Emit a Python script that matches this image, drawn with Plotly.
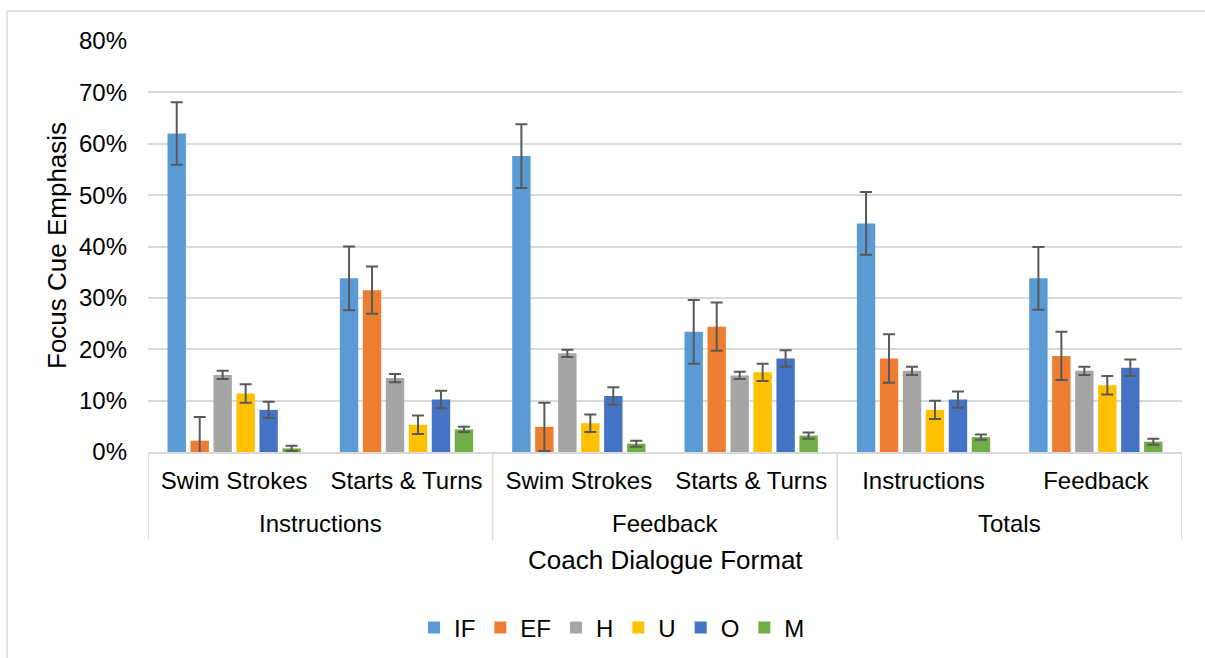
import plotly.graph_objects as go

outer = ["Instructions", "Instructions", "Feedback", "Feedback", "Totals", "Totals"]
inner = ["Swim Strokes", "Starts & Turns", "Swim Strokes", "Starts & Turns", "Instructions", "Feedback"]
groups = ["Instructions", "Feedback", "Totals"]

series_names = ["IF", "EF", "H", "U", "O", "M"]
colors = ["#5B9BD5", "#ED7D31", "#A5A5A5", "#FFC000", "#4472C4", "#70AD47"]

IF = [62.0, 33.8, 57.6, 23.4, 44.5, 33.8]
EF = [2.2, 31.5, 4.9, 24.4, 18.2, 18.7]
H = [15.0, 14.4, 19.2, 14.9, 15.8, 15.8]
U = [11.4, 5.3, 5.6, 15.5, 8.2, 13.0]
O = [8.2, 10.2, 10.9, 18.2, 10.2, 16.4]
M = [0.7, 4.4, 1.6, 3.2, 2.9, 2.0]

IF_err = [6.1, 6.2, 6.2, 6.2, 6.1, 6.1]
EF_err = [4.6, 4.6, 4.7, 4.7, 4.7, 4.7]
H_err = [0.8, 0.8, 0.7, 0.7, 0.8, 0.8]
U_err = [1.8, 1.8, 1.7, 1.7, 1.8, 1.8]
O_err = [1.6, 1.7, 1.7, 1.6, 1.6, 1.6]
M_err = [0.5, 0.5, 0.6, 0.6, 0.5, 0.6]

values = [IF, EF, H, U, O, M]
errors = [IF_err, EF_err, H_err, U_err, O_err, M_err]

FONT = "Liberation Sans, Arial, sans-serif"

# unique category ids (outer|inner) so repeated inner labels stay distinct
cats = [f"{o}|{i}" for o, i in zip(outer, inner)]

fig = go.Figure()
for name, col, v, e in zip(series_names, colors, values, errors):
    fig.add_trace(go.Bar(
        name=name,
        x=cats,
        y=v,
        marker=dict(color=col, line=dict(width=0)),
        error_y=dict(type="data", array=e, visible=True, color="#595959", thickness=2, width=6),
    ))

W, H_ = 1205, 658
L, R, T, B = 148, 1182, 41, 452

def px_x(p):
    return (p - L) / (R - L)

def px_y(p):
    return (B - p) / (B - T)

annotations = [
    dict(text="Focus Cue Emphasis", xref="paper", yref="paper", x=px_x(57), y=px_y(246),
         xanchor="center", yanchor="middle", textangle=-90, showarrow=False,
         font=dict(size=26, family=FONT, color="#000000")),
    dict(text="Coach Dialogue Format", xref="paper", yref="paper", x=px_x(665), y=px_y(560),
         xanchor="center", yanchor="middle", showarrow=False,
         font=dict(size=26, family=FONT, color="#000000")),
]
# outer group labels, centred on each pair of categories
n_per = len(cats) // len(groups)
for gi, g in enumerate(groups):
    center = gi * n_per + (n_per - 1) / 2
    annotations.append(dict(text=g, xref="x", yref="paper", x=center, y=px_y(523),
                            xanchor="center", yanchor="middle", showarrow=False,
                            font=dict(size=24, family=FONT, color="#000000")))

shapes = [
    dict(type="rect", xref="paper", yref="paper", x0=px_x(7), x1=px_x(1230), y0=px_y(700), y1=px_y(11),
         line=dict(color="#D9D9D9", width=1.5), fillcolor="rgba(0,0,0,0)", layer="below"),
]
# group dividers
for gi in range(len(groups) + 1):
    xd = gi * n_per - 0.5
    shapes.append(dict(type="line", xref="x", yref="paper", x0=xd, x1=xd, y0=0, y1=px_y(540),
                       line=dict(color="#D9D9D9", width=1.5), layer="below"))

fig.update_layout(
    width=W, height=H_, autosize=False,
    margin=dict(l=L, r=W - R, t=T, b=H_ - B, autoexpand=False),
    paper_bgcolor="white", plot_bgcolor="white",
    barmode="group", bargap=0.2, bargroupgap=0.2,
    font=dict(family=FONT, size=24, color="#000000"),
    showlegend=True,
    legend=dict(orientation="h", x=px_x(612), xanchor="center", y=px_y(628), yanchor="middle",
                font=dict(size=24), itemwidth=30, traceorder="normal"),
    xaxis=dict(type="category", tickmode="array", tickvals=cats, ticktext=inner,
               showgrid=False, showline=True, linecolor="#D9D9D9", linewidth=1.5,
               ticks="", ticklabelstandoff=6, range=[-0.5, len(cats) - 0.5], automargin=False,
               tickfont=dict(size=24, family=FONT, color="#000000")),
    yaxis=dict(range=[0, 80], dtick=10, ticksuffix="%", showgrid=True, gridcolor="#D9D9D9", gridwidth=1.5,
               zeroline=False, showline=False, ticks="", ticklabelstandoff=20, automargin=False,
               tickfont=dict(size=24, family=FONT, color="#000000")),
    annotations=annotations,
    shapes=shapes,
)

fig.write_html("out.html", config={"displayModeBar": False, "responsive": False},
               post_script="document.body.style.margin='0';")
